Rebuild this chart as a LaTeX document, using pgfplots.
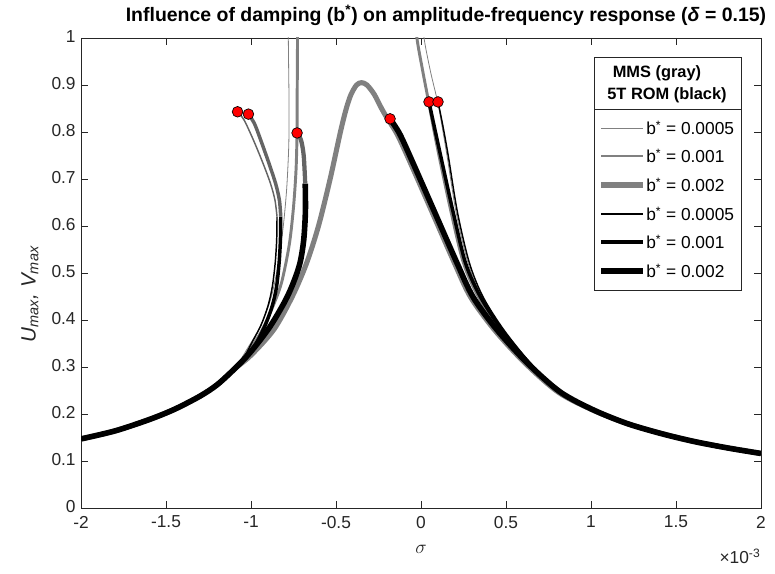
\documentclass[border=0pt]{standalone}
\usepackage{fontspec}
\setmainfont{Liberation Sans}
\usepackage{pgfplots}
\pgfplotsset{compat=1.18}
\definecolor{mmsgray}{RGB}{128,128,128}
\definecolor{romgray}{RGB}{100,100,100}
\definecolor{axgray}{RGB}{38,38,38}
\begin{document}
\begin{tikzpicture}
\path[use as bounding box] (0,0) rectangle (581.25pt,430.5pt);
\begin{axis}[
  at={(60.75pt,49.5pt)}, anchor=south west,
  scale only axis, width=510pt, height=352.5pt,
  xmin=-2, xmax=2, ymin=0, ymax=1,
  xtick={-2,-1.5,-1,-0.5,0,0.5,1,1.5,2},
  xticklabels={-2,-1.5,-1,-0.5,0,0.5,1,1.5,2},
  ytick={0,0.1,0.2,0.3,0.4,0.5,0.6,0.7,0.8,0.9,1},
  yticklabels={0,0.1,0.2,0.3,0.4,0.5,0.6,0.7,0.8,0.9,1},
  tick align=inside, major tick length=5pt,
  axis line style={axgray, line width=0.5pt},
  every tick/.style={axgray, line width=0.5pt},
  ticklabel style={font=\fontsize{13}{15}\selectfont, text=axgray},
  xticklabel style={yshift=-2.5pt},
  yticklabel style={xshift=-0.5pt, yshift=1pt},
  ylabel={U\textsubscript{max}, V\textsubscript{max}},
  ylabel style={font=\itshape\fontsize{15.5}{18}\selectfont, text=axgray,
    at={(axis description cs:-0.075,0.455)}, anchor=center, rotate=0},
  clip=true,
]
% ---------- MMS (gray) ----------
\addplot[mmsgray, line width=0.6pt, smooth] coordinates {
(-2,0.147) (-1.8,0.164) (-1.6,0.188) (-1.45,0.21) (-1.3,0.238) (-1.2,0.262) (-1.1,0.295)
(-1.02,0.34) (-0.94,0.39) (-0.88,0.45) (-0.84,0.52) (-0.81,0.6) (-0.79,0.68) (-0.778,0.77)
(-0.776,0.85) (-0.779,0.95) (-0.782,1.05)};
\addplot[mmsgray, line width=2.2pt, smooth] coordinates {
(-2,0.147) (-1.8,0.164) (-1.6,0.188) (-1.45,0.21) (-1.3,0.238) (-1.2,0.262) (-1.1,0.295)
(-1.02,0.33) (-0.94,0.375) (-0.87,0.43) (-0.82,0.48) (-0.775,0.56) (-0.75,0.64) (-0.735,0.72)
(-0.729,0.8) (-0.729,0.85) (-0.727,0.95) (-0.726,1.05)};
\addplot[mmsgray, line width=0.6pt, smooth] coordinates {
(0.013,1.05) (0.018,1.0) (0.055,0.93) (0.098,0.864) (0.12,0.82) (0.153,0.75) (0.207,0.628)
(0.277,0.521) (0.357,0.449) (0.48,0.379) (0.636,0.309) (0.795,0.253) (1.0,0.211) (1.2,0.181)
(1.4,0.16) (1.6,0.142) (1.8,0.128) (2.0,0.116)};
\addplot[mmsgray, line width=2.2pt, smooth] coordinates {
(-0.03,1.05) (-0.024,1.0) (0.01,0.93) (0.045,0.864) (0.078,0.80) (0.115,0.734) (0.178,0.628)
(0.25,0.521) (0.338,0.449) (0.463,0.379) (0.625,0.309) (0.79,0.252) (1.0,0.211) (1.2,0.181)
(1.4,0.16) (1.6,0.142) (1.8,0.128) (2.0,0.116)};
\addplot[mmsgray, line width=3.8pt, smooth] coordinates {
(-2,0.147) (-1.8,0.164) (-1.6,0.188) (-1.45,0.21) (-1.3,0.238) (-1.2,0.262) (-1.1,0.295)
(-1.0,0.325) (-0.865,0.38) (-0.757,0.45) (-0.674,0.52) (-0.603,0.6) (-0.5345,0.7)
(-0.474,0.8) (-0.4395,0.85) (-0.4115,0.88) (-0.379,0.9) (-0.35,0.905) (-0.318,0.9)
(-0.275,0.88) (-0.232,0.85) (-0.2,0.83) (-0.14,0.795) (-0.062,0.734) (0.067,0.628)
(0.197,0.521) (0.291,0.449) (0.432,0.379) (0.61,0.309) (0.805,0.247) (1.0,0.21)
(1.2,0.181) (1.4,0.16) (1.6,0.142) (1.8,0.128) (2.0,0.116)};
% ---------- 5T ROM (black) ----------
% b* = 0.0005
\addplot[black, line width=1.1pt, smooth] coordinates {
(-2,0.147) (-1.8,0.164) (-1.6,0.188) (-1.45,0.21) (-1.3,0.238) (-1.2,0.262) (-1.1,0.295)
(-1.04,0.322) (-0.99,0.355) (-0.94,0.39) (-0.9,0.43) (-0.875,0.47) (-0.858,0.52)
(-0.849,0.57) (-0.847,0.62)};
\addplot[romgray, line width=1.1pt, smooth] coordinates {
(-0.847,0.62) (-0.859,0.655) (-0.885,0.69) (-0.929,0.733) (-0.986,0.783) (-1.04,0.825) (-1.079,0.843)};
\addplot[black, line width=1.1pt, smooth] coordinates {
(0.1,0.864) (0.125,0.82) (0.16,0.75) (0.215,0.628) (0.285,0.521) (0.365,0.449) (0.487,0.379)
(0.642,0.309) (0.8,0.253) (1.012,0.209) (1.21,0.18) (1.406,0.159) (1.6,0.142) (1.8,0.128) (2.0,0.116)};
% b* = 0.001
\addplot[black, line width=2.6pt, smooth] coordinates {
(-2,0.147) (-1.8,0.164) (-1.6,0.188) (-1.45,0.21) (-1.3,0.238) (-1.2,0.262) (-1.1,0.295)
(-1.03,0.318) (-0.97,0.35) (-0.915,0.39) (-0.875,0.43) (-0.85,0.47) (-0.835,0.52)
(-0.827,0.57) (-0.825,0.62)};
\addplot[romgray, line width=2.6pt, smooth] coordinates {
(-0.825,0.62) (-0.833,0.655) (-0.855,0.69) (-0.894,0.733) (-0.945,0.785) (-0.98,0.818) (-1.015,0.838)};
\addplot[black, line width=2.6pt, smooth] coordinates {
(0.047,0.864) (0.085,0.80) (0.125,0.734) (0.19,0.628) (0.262,0.521) (0.35,0.449) (0.475,0.379)
(0.635,0.309) (0.8,0.252) (1.012,0.209) (1.21,0.18) (1.406,0.159) (1.6,0.142) (1.8,0.128) (2.0,0.116)};
% b* = 0.002
\addplot[black, line width=4.2pt, smooth] coordinates {
(-2,0.147) (-1.8,0.164) (-1.6,0.188) (-1.45,0.21) (-1.3,0.238) (-1.2,0.262) (-1.1,0.295)
(-1.0,0.333) (-0.89,0.385) (-0.8,0.44) (-0.75,0.48) (-0.712,0.521) (-0.69,0.57)
(-0.68,0.63) (-0.681,0.69)};
\addplot[romgray, line width=3.2pt, smooth] coordinates {
(-0.681,0.69) (-0.69,0.75) (-0.706,0.783) (-0.729,0.798)};
\addplot[black, line width=4.2pt, smooth] coordinates {
(-0.182,0.828) (-0.124,0.795) (-0.047,0.734) (0.082,0.628) (0.212,0.521) (0.306,0.449)
(0.447,0.379) (0.624,0.309) (0.818,0.247) (1.012,0.209) (1.21,0.18) (1.406,0.159)
(1.6,0.142) (1.8,0.128) (2.0,0.116)};
% ---------- end points ----------
\addplot[only marks, mark=*, mark size=4pt, mark options={fill=red, draw=black, line width=0.5pt}] coordinates {
(-1.079,0.843) (-1.015,0.838) (-0.729,0.798) (-0.182,0.828) (0.047,0.864) (0.1,0.864)};
\end{axis}
\begin{scope}[x=0.75pt, y=-0.75pt, yshift=430.5pt]
% title and labels
\node[font=\bfseries\fontsize{14.6}{17}\selectfont, text=black] at (446,15)
  {Influence of damping (b\textsuperscript{*}) on amplitude-frequency response (\textit{δ} = 0.15)};
\node[font=\fontsize{15}{17}\selectfont, text=axgray] at (421,549) {$\sigma$};
\node[font=\fontsize{13}{15}\selectfont, text=axgray] at (740,556) {×10\textsuperscript{-3}};
% legend
\draw[axgray, line width=0.5pt, fill=white] (594,57) rectangle (741,290);
\draw[axgray, line width=0.5pt] (594,109) -- (741,109);
\node[font=\bfseries\fontsize{12.3}{14}\selectfont] at (657,73) {MMS (gray)};
\node[font=\bfseries\fontsize{12.3}{14}\selectfont] at (667,95) {5T ROM (black)};
\draw[mmsgray, line width=0.6pt] (601,128) -- (643,128);
\draw[mmsgray, line width=2.2pt] (601,156) -- (643,156);
\draw[mmsgray, line width=3.8pt] (601,185) -- (643,185);
\draw[black, line width=1.1pt] (601,214) -- (643,214);
\draw[black, line width=2.6pt] (601,242) -- (643,242);
\draw[black, line width=4.2pt] (601,271) -- (643,271);
\foreach \yy/\val in {128/0.0005,156/0.001,185/0.002,214/0.0005,242/0.001,271/0.002}
  \node[anchor=west, font=\fontsize{13}{15}\selectfont, inner sep=0pt] at (646,\yy)
    {b\textsuperscript{*} = \val};
\end{scope}
\end{tikzpicture}
\end{document}
